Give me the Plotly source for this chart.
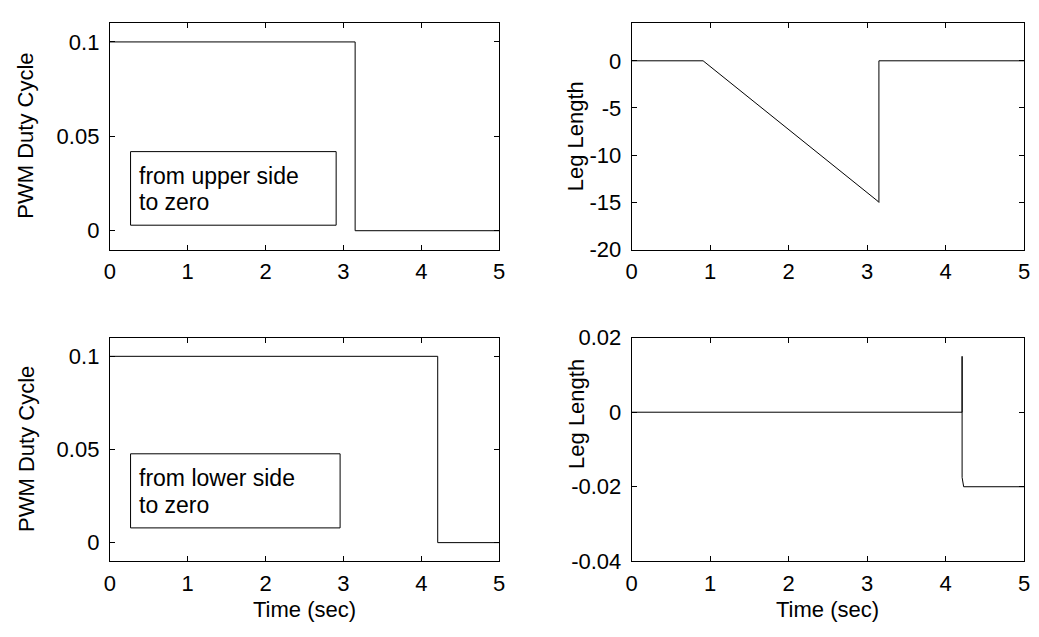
import plotly.graph_objects as go

# ---- data ----
t_duty_upper = [0, 3.15, 3.15, 5]
duty_upper = [0.1, 0.1, 0.0, 0.0]

t_leg_upper = [0, 0.91, 3.14, 3.15, 3.15, 5]
leg_upper = [0, 0, -14.9, -15.0, 0, 0]

t_duty_lower = [0, 4.21, 4.21, 5]
duty_lower = [0.1, 0.1, 0.0, 0.0]

t_leg_lower = [0, 4.21, 4.21, 4.21, 4.23, 5]
leg_lower = [0, 0, 0.015, -0.0175, -0.02, -0.02]

x_ticks = [0, 1, 2, 3, 4, 5]
duty_ticks = [0, 0.05, 0.1]
duty_ticktext = ["0", "0.05", "0.1"]
leg_upper_ticks = [-20, -15, -10, -5, 0]
leg_upper_ticktext = ["-20", "-15", "-10", "-5", "0"]
leg_lower_ticks = [-0.04, -0.02, 0, 0.02]
leg_lower_ticktext = ["-0.04", "-0.02", "0", "0.02"]

W, H = 1039, 637
FONT = "Liberation Sans, Arial, Helvetica, sans-serif"
FS = 22
FS_BOX = 23

fig = go.Figure()
line = dict(color="black", width=1)
fig.add_trace(go.Scatter(x=t_duty_upper, y=duty_upper, mode="lines", line=line, xaxis="x", yaxis="y"))
fig.add_trace(go.Scatter(x=t_leg_upper, y=leg_upper, mode="lines", line=line, xaxis="x2", yaxis="y2"))
fig.add_trace(go.Scatter(x=t_duty_lower, y=duty_lower, mode="lines", line=line, xaxis="x3", yaxis="y3"))
fig.add_trace(go.Scatter(x=t_leg_lower, y=leg_lower, mode="lines", line=line, xaxis="x4", yaxis="y4"))

def px_x(a, b):
    return [a / W, b / W]

def px_y(top, bottom):
    return [(H - bottom) / H, (H - top) / H]

col_l = px_x(105, 499)
col_r = px_x(633, 1030)
row_t = px_y(11.5, 247.3)
row_b = px_y(339, 571.7)

def xax(domain, anchor):
    return dict(domain=domain, anchor=anchor, range=[0, 5], tickvals=x_ticks,
                ticks="inside", ticklen=5, tickcolor="black", showline=True,
                linecolor="black", linewidth=1, mirror="ticks", showgrid=False,
                zeroline=False, ticklabelstandoff=2,
                tickfont=dict(family=FONT, size=FS, color="black"))

def yax(domain, anchor, rng, tv, tt):
    return dict(domain=domain, anchor=anchor, range=rng, tickvals=tv, ticktext=tt,
                ticks="inside", ticklen=5, tickcolor="black", showline=True,
                linecolor="black", linewidth=1, mirror="ticks", showgrid=False,
                zeroline=False, ticklabelstandoff=5,
                tickfont=dict(family=FONT, size=FS, color="black"))

fig.update_layout(
    width=W, height=H, autosize=False,
    margin=dict(l=0, r=0, t=0, b=0),
    paper_bgcolor="white", plot_bgcolor="white",
    showlegend=False,
    font=dict(family=FONT, size=FS, color="black"),
    xaxis=xax(col_l, "y"),
    yaxis=yax(row_t, "x", [-0.01, 0.11], duty_ticks, duty_ticktext),
    xaxis2=xax(col_r, "y2"),
    yaxis2=yax(row_t, "x2", [-20, 4], leg_upper_ticks, leg_upper_ticktext),
    xaxis3=xax(col_l, "y3"),
    yaxis3=yax(row_b, "x3", [-0.01, 0.11], duty_ticks, duty_ticktext),
    xaxis4=xax(col_r, "y4"),
    yaxis4=yax(row_b, "x4", [-0.04, 0.02], leg_lower_ticks, leg_lower_ticktext),
)

# legend-like boxes (positions in pixels converted to data units)
def ypix_top(py):   # top row: 0 at 226.7, 1950 px per unit
    return (226.7 - py) / 1950.0

def ypix_bot(py):   # bottom row: 0 at 551.3, 1936 px per unit
    return (551.3 - py) / 1936.0

def xpix(px):
    return (px - 105) / 78.8

fig.add_shape(type="rect", xref="x", yref="y", x0=xpix(126), x1=xpix(334),
              y0=ypix_top(221), y1=ypix_top(145),
              line=dict(color="black", width=1), fillcolor="white", layer="above")
fig.add_shape(type="rect", xref="x3", yref="y3", x0=xpix(126), x1=xpix(338),
              y0=ypix_bot(536), y1=ypix_bot(459),
              line=dict(color="black", width=1), fillcolor="white", layer="above")

def boxtext(xref, yref, x, y, text):
    fig.add_annotation(xref=xref, yref=yref, x=x, y=y, text=text,
                       showarrow=False, xanchor="left", yanchor="middle", align="left",
                       borderpad=0,
                       font=dict(family=FONT, size=FS_BOX, color="black"))

boxtext("x", "y", xpix(134), ypix_top(170), "from upper side")
boxtext("x", "y", xpix(134), ypix_top(197), "to zero")
boxtext("x3", "y3", xpix(134), ypix_bot(484), "from lower side")
boxtext("x3", "y3", xpix(134), ypix_bot(512), "to zero")

# axis titles
def ann(x, y, text, angle=0):
    fig.add_annotation(xref="paper", yref="paper", x=x / W, y=(H - y) / H, text=text,
                       showarrow=False, xanchor="center", yanchor="middle", textangle=angle,
                       font=dict(family=FONT, size=FS, color="black"))

ann(20, 129, "PWM Duty Cycle", -90)
ann(20, 455, "PWM Duty Cycle", -90)
ann(577, 129, "Leg Length", -90)
ann(577, 418, "Leg Length", -90)
ann(302, 622, "Time (sec)")
ann(831, 622, "Time (sec)")

fig.write_html("out.html",
               config={"displayModeBar": False},
               post_script="document.body.style.margin='0';document.body.style.overflow='hidden';")
